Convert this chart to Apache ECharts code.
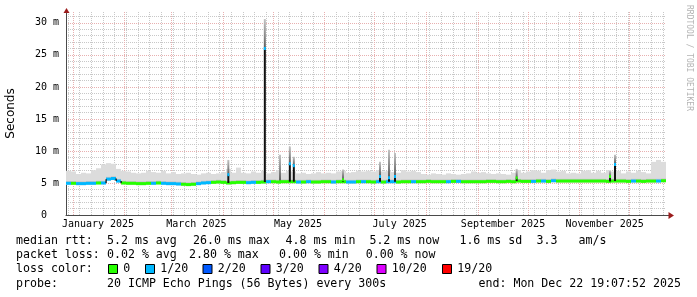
<!DOCTYPE html>
<html><head><meta charset="utf-8">
<script src="https://cdn.jsdelivr.net/npm/echarts@6/dist/echarts.min.js"></script>
<style>html,body{margin:0;padding:0;background:#fff}#c{width:697px;height:297px}</style>
</head><body><div id="c"></div>
<script>
// ---------- data (ms) ----------
const binDays = 3; // each bin covers 3 days, starting at the graph start
const smokeTop = [
 6.9,6.8,6.4,6.6,6.5,7.0,7.3,7.9,8.1,8.0,
 7.2,6.9,6.8,6.6,6.5,6.6,6.9,6.7,6.6,6.9,
 6.5,6.7,6.4,6.5,6.6,6.4,6.3,6.5,6.6,6.4,
 6.5,6.7,7.2,6.6,7.4,6.6,6.5,6.8,6.6,6.9,
 6.5,6.7,7.0,6.6,6.9,6.8,6.5,6.6,6.4,6.5,
 6.7,6.5,6.6,6.5,6.8,6.9,6.6,6.7,6.9,6.8,
 6.9,6.8,7.0,6.8,6.9,6.7,6.6,7.0,6.8,6.9,
 6.7,6.4,6.3,6.5,6.4,6.3,6.5,6.4,6.3,6.4,
 6.5,6.8,6.6,6.7,6.5,6.4,6.5,6.4,6.3,6.6,
 7.0,6.6,6.8,7.0,6.9,6.6,7.0,7.1,6.8,6.9,
 6.5,6.6,6.5,6.9,7.0,6.6,6.9,6.6,7.0,6.8,
 6.9,6.5,6.8,6.6,6.9,6.7,6.5,8.3,8.6,8.3];
const medianRtt = [
 4.95,4.95,4.9,4.9,4.95,4.95,5.0,5.0,5.6,5.7,
 5.3,5.0,4.95,4.95,4.9,4.9,4.95,4.95,5.0,4.95,
 4.9,4.9,4.85,4.8,4.75,4.8,4.9,5.0,5.05,5.1,
 5.15,5.1,5.0,5.05,5.1,5.1,5.05,5.1,5.1,5.15,
 5.2,5.2,5.15,5.2,5.2,5.2,5.15,5.15,5.2,5.15,
 5.15,5.2,5.2,5.15,5.2,5.2,5.15,5.15,5.2,5.2,
 5.2,5.15,5.2,5.15,5.2,5.2,5.15,5.2,5.2,5.2,
 5.2,5.2,5.25,5.2,5.2,5.2,5.2,5.25,5.25,5.2,
 5.2,5.2,5.2,5.2,5.25,5.25,5.2,5.2,5.25,5.2,
 5.3,5.25,5.25,5.25,5.3,5.3,5.25,5.35,5.3,5.3,
 5.3,5.3,5.3,5.3,5.3,5.3,5.3,5.3,5.25,5.3,
 5.3,5.3,5.25,5.3,5.3,5.25,5.3,5.3,5.3,5.35];
const lossBin = [ // lost pings out of 20
 1,0,1,1,1,1,0,1,1,1,
 1,0,0,0,0,0,0,1,0,1,
 1,1,1,0,0,0,1,1,1,0,
 0,0,0,0,0,0,1,1,0,0,
 1,0,0,0,0,0,1,0,1,0,
 0,0,0,1,0,0,1,1,0,1,
 0,0,1,0,1,1,0,0,0,1,
 0,0,0,0,0,0,1,0,1,0,
 0,0,0,0,0,0,0,0,0,0,
 0,0,0,1,0,1,0,1,0,0,
 0,0,0,0,0,0,0,0,0,0,
 0,0,0,1,0,0,0,0,1,0];
// isolated spikes (day since graph start)
const spikeDay    = [97.4, 119.3, 128.4, 134.3, 136.7, 166.2, 188.4, 193.8, 197.4, 270.4, 326.4, 329.4];
const spikeMedian = [6.3, 26.0, 5.2, 8.0, 7.7, 5.5, 6.0, 5.8, 6.0, 5.8, 6.0, 7.9];
const spikeTop    = [8.6, 30.6, 9.4, 10.7, 9.1, 7.1, 8.3, 10.2, 9.7, 7.2, 6.9, 9.4];
const spikeLoss   = [1, 1, 0, 1, 1, 0, 1, 1, 1, 0, 0, 1];

const monthLabels = ['January 2025','March 2025','May 2025','July 2025','September 2025','November 2025'];
const labelMonths = [0, 2, 4, 6, 8, 10];
const yTickLabels = {0:'0  ',5:'5 m',10:'10 m',15:'15 m',20:'20 m',25:'25 m',30:'30 m'};

const lossLevels = [0, 1, 2, 3, 4, 10, 19];
const lossNames  = ['0','1/20','2/20','3/20','4/20','10/20','19/20'];
const lossColors = ['#26ff00','#00b8ff','#0059ff','#5e00ff','#7e00ff','#dd00ff','#ff0000'];

const statLines = [
 [['median rtt:',16],['5.2 ms avg',107],['26.0 ms max',193],['4.8 ms min',285.6],['5.2 ms now',369.4],['1.6 ms sd',459.4],['3.3',536.5],['am/s',578.5]],
 [['packet loss:',16],['0.02 % avg',107],['2.80 % max',189],['0.00 % min',279],['0.00 % now',365.7]],
 [['probe:',16],['20 ICMP Echo Pings (56 Bytes) every 300s',107],['end: Mon Dec 22 19:07:52 2025',478.5]]
];
const legendX = [108, 145, 202.5, 260.5, 318.5, 376.5, 442];

// ---------- time helpers ----------
const DAY = 86400000;
const T0 = Date.UTC(2024, 11, 27, 19, 7, 52);
const SPAN = 360;
const Y_MAX = 31.7;
const dayOf = t => (t - T0) / DAY;

const vLines = [];
for (let t = Date.UTC(2024, 11, 29); t < T0 + SPAN * DAY; t += 7 * DAY) vLines.push([dayOf(t), 0]);
for (let m = 0; m < 12; m++) vLines.push([dayOf(Date.UTC(2025, m, 1)), 1]);
const xLabelData = labelMonths.map((m, i) => [dayOf(Date.UTC(2025, m, 16)), i]);

function lossColor(l) {
  let c = lossColors[0];
  for (let i = 0; i < lossLevels.length; i++) if (l >= lossLevels[i]) c = lossColors[i];
  return c;
}

const bins = medianRtt.map((m, i) => [i * binDays, (i + 1) * binDays, m - 0.25, smokeTop[i], m, lossBin[i], i > 0 ? medianRtt[i - 1] : m]);
const spikes = spikeDay.map((d, i) => [d, medianRtt[Math.min(medianRtt.length - 1, Math.floor(d / binDays))], spikeMedian[i], spikeTop[i], spikeLoss[i]]);

const MONO = '"DejaVu Sans Mono", monospace';
const MINOR = '#c8c8c8', MAJOR = '#e8b0b0', AXIS = '#4a4a4a', ARROW = '#9b1c1c';

const graphic = [];
graphic.push({type:'polygon', shape:{points:[[63.5,13],[69.5,13],[66.5,8]]}, style:{fill:ARROW}, z:100});
graphic.push({type:'line', shape:{x1:666,y1:215.5,x2:669,y2:215.5}, style:{stroke:AXIS,lineWidth:1}, z:100});
graphic.push({type:'polygon', shape:{points:[[668.5,212],[668.5,219],[674,215.5]]}, style:{fill:ARROW}, z:100});
const lineY = [241.3, 255.3, 283.7];
statLines.forEach((segs, li) => segs.forEach(([t, x]) => graphic.push({
  type:'text', x:x, y:lineY[li], style:{text:t, font:'11.6px ' + MONO, fill:'#000', textAlign:'left', textVerticalAlign:'middle'}, z:100})));
graphic.push({type:'text', x:16, y:269.3, style:{text:'loss color:', font:'11.6px ' + MONO, fill:'#000', textAlign:'left', textVerticalAlign:'middle'}, z:100});
lossNames.forEach((n, i) => {
  graphic.push({type:'rect', shape:{x:legendX[i] + 0.5, y:264.5, width:9, height:9}, style:{fill:lossColors[i], stroke:'#000', lineWidth:1}, z:100});
  graphic.push({type:'text', x:legendX[i] + 15.3, y:269.3, style:{text:n, font:'11.6px ' + MONO, fill:'#000', textAlign:'left', textVerticalAlign:'middle'}, z:100});
});
graphic.push({type:'text', x:689, y:5, rotation:-Math.PI / 2, style:{text:'RRDTOOL / TOBI OETIKER', font:'8px ' + MONO, fill:'#b4b4b4', textAlign:'left', textVerticalAlign:'middle'}, z:100});

const chart = echarts.init(document.getElementById('c'), null, {renderer:'canvas'});
chart.setOption({
  animation:false,
  backgroundColor:'#ffffff',
  grid:{left:66, right:31, top:12, bottom:82, containLabel:false, outerBoundsMode:'none'},
  xAxis:{type:'value', min:0, max:SPAN, axisLine:{show:true, onZero:false, lineStyle:{color:AXIS, width:1}},
    axisTick:{show:false}, axisLabel:{show:false}, splitLine:{show:false}},
  yAxis:{type:'value', min:0, max:Y_MAX, interval:5,
    name:'Seconds', nameLocation:'middle', nameGap:49, nameRotate:90,
    nameTextStyle:{fontFamily:'"DejaVu Sans", sans-serif', fontSize:12, color:'#000'},
    axisLine:{show:true, lineStyle:{color:AXIS, width:1}},
    axisTick:{show:false},
    axisLabel:{fontFamily:MONO, fontSize:10, color:'#000', margin:7, showMaxLabel:false,
      formatter:v => (yTickLabels[v] !== undefined ? yTickLabels[v] : '')},
    splitLine:{show:true, showMinLine:false, showMaxLine:false, lineStyle:{color:MAJOR, type:[1,1], width:1}},
    minorTick:{show:false, splitNumber:5},
    minorSplitLine:{show:true, lineStyle:{color:MINOR, type:[1,1], width:1}}},
  graphic: graphic,
  series:[
    { // vertical grid lines
      type:'custom', z:1, silent:true, data:vLines, encode:{x:0},
      renderItem:(p, api) => {
        const d = api.value(0), major = api.value(1);
        const a = api.coord([d, 0]), b = api.coord([d, Y_MAX]);
        const x = Math.floor(a[0]) + 0.5;
        return {type:'line', shape:{x1:x, y1:a[1], x2:x, y2:b[1]},
          style:{stroke: major ? MAJOR : MINOR, lineWidth:1, lineDash:[1,1]}};
      }
    },
    { // smoke
      type:'custom', z:2, silent:true, data:bins, encode:{x:[0,1], y:[2,3]},
      renderItem:(p, api) => {
        const s = api.value(0), e = api.value(1), lo = api.value(2), hi = api.value(3), m = api.value(4);
        const a = api.coord([s, lo]), b = api.coord([e, hi]);
        const c = api.coord([s, m]), d = api.coord([e, m + 0.35]);
        return {type:'group', children:[
          {type:'rect', shape:{x:a[0], y:b[1], width:b[0]-a[0], height:a[1]-b[1]}, style:{fill:'#dcdcdc'}},
          {type:'rect', shape:{x:c[0], y:d[1], width:d[0]-c[0], height:c[1]-d[1]}, style:{fill:'#c6c6c6'}}
        ]};
      }
    },
    { // median line coloured by loss
      type:'custom', z:3, silent:true, data:bins, encode:{x:[0,1], y:4},
      renderItem:(p, api) => {
        const s = api.value(0), e = api.value(1), m = api.value(4), l = api.value(5), pm = api.value(6);
        const a = api.coord([s, m]), b = api.coord([e, m]);
        const ch = [{type:'rect', shape:{x:a[0], y:a[1]-1.5, width:b[0]-a[0], height:3}, style:{fill:lossColor(l)}}];
        if (Math.abs(m - pm) > 0.2) {
          const q = api.coord([s, pm]);
          ch.push({type:'rect', shape:{x:a[0]-0.5, y:Math.min(a[1], q[1]), width:1.2, height:Math.abs(a[1]-q[1])}, style:{fill:'#000'}});
        }
        return {type:'group', children:ch};
      }
    },
    { // spikes
      type:'custom', z:4, silent:true, data:spikes, encode:{x:0, y:[1,2,3]},
      renderItem:(p, api) => {
        const d = api.value(0), base = api.value(1), m = api.value(2), top = api.value(3), l = api.value(4);
        const a = api.coord([d - 0.6, base]), b = api.coord([d + 0.6, m]), c = api.coord([d + 0.6, top]);
        const w = Math.max(2, b[0] - a[0]);
        return {type:'group', children:[
          {type:'rect', shape:{x:a[0], y:c[1], width:w, height:b[1]-c[1]},
            style:{fill:new echarts.graphic.LinearGradient(0,0,0,1,[{offset:0,color:'#c4c4c4'},{offset:1,color:'#5a5a5a'}])}},
          {type:'rect', shape:{x:a[0], y:b[1], width:w, height:a[1]-b[1]}, style:{fill:'#111'}},
          {type:'rect', shape:{x:a[0], y:b[1]-1.5, width:w, height:3}, style:{fill:lossColor(l)}}
        ]};
      }
    },
    { // x axis labels
      type:'custom', z:5, silent:true, clip:false, data:xLabelData, encode:{x:0},
      renderItem:(p, api) => {
        const d = api.value(0), i = api.value(1);
        const a = api.coord([d, 0]);
        return {type:'text', x:a[0], y:a[1] + 9.5,
          style:{text:monthLabels[i], font:'10px ' + MONO, fill:'#000', align:'center', verticalAlign:'middle'}};
      }
    }
  ]
});
</script></body></html>
